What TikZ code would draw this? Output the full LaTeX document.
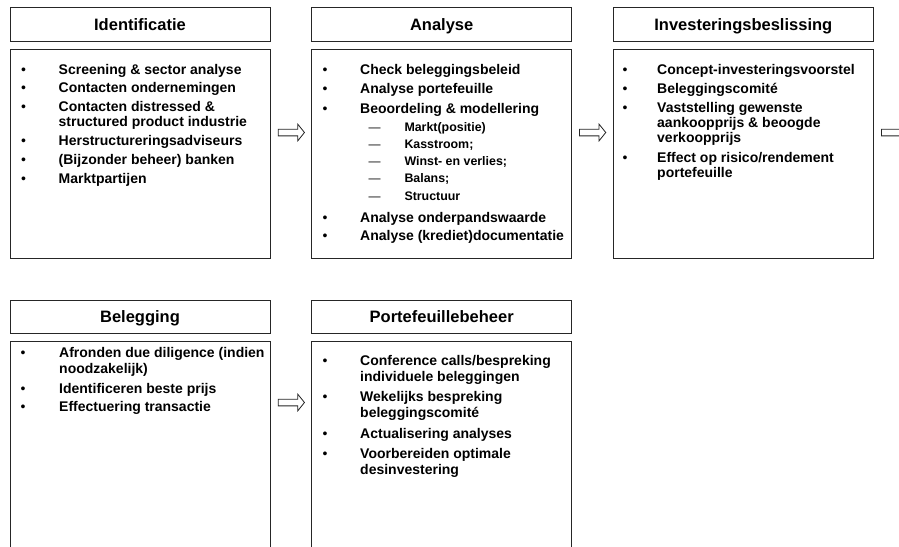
\documentclass[tikz,border=0pt]{standalone}
\usepackage{fontspec}
\setmainfont{Liberation Sans}
\usetikzlibrary{calc}
\tikzset{
  box/.style={draw=black!85, line width=0.9pt, inner sep=0pt},
  hdr/.style={box, minimum width=260pt, text height=12pt, text depth=0pt,
    font=\fontsize{16.5}{18}\selectfont\bfseries},
  body/.style={box, minimum width=260pt},
  itm/.style={inner sep=0pt, anchor=base west, font=\fontsize{14}{15}\selectfont\bfseries},
  subitm/.style={inner sep=0pt, anchor=base west, font=\fontsize{12.4}{14}\selectfont\bfseries},
  dot/.style={inner sep=0pt, anchor=base, font=\fontsize{14}{15}\selectfont},
  dashmark/.style={inner sep=0pt, anchor=base west, font=\fontsize{12}{14}\selectfont},
  blockarrow/.style={draw=black!85, line width=0.8pt, fill=white, line join=miter},
}
\newcommand\bitem[5]{%
  \node[dot] (#1d) at (#2,#4) {\textbullet};
  \node[itm] (#1) at (#3,#4) {#5};}
\newcommand\bcont[4]{\node[itm] (#1) at (#2,#3) {#4};}
\newcommand\bsub[5]{%
  \node[dashmark] (#1d) at (#2,#4) {\textemdash};
  \node[subitm] (#1) at (#3,#4) {#5};}
\newcommand\blockarr[1]{%
  \draw[blockarrow] (#1) ++(0,-3.35) -- ++(19.6,0) -- ++(0,-5) -- ++(6.7,8.35)
    -- ++(-6.7,8.35) -- ++(0,-5) -- ++(-19.6,0) -- cycle;}
\begin{document}
\begin{tikzpicture}[x=1pt,y=-1pt]
\useasboundingbox (0,0) rectangle (899,546);
\fill[white] (0,0) rectangle (899,546);
\clip (0,0) rectangle (899,546);

% ---------- top row ----------
\node[hdr, minimum height=34pt] (h1) at (140,24) {Identificatie};
\node[body, minimum height=209pt] (b1) at (140,153.5) {};
\node[hdr, minimum height=34pt] (h2) at (441.7,24) {Analyse};
\node[body, minimum height=209pt] (b2) at (441.7,153.5) {};
\node[hdr, minimum height=34pt] (h3) at (743.3,24) {Investeringsbeslissing};
\node[body, minimum height=209pt] (b3) at (743.3,153.5) {};

% ---------- bottom row ----------
\node[hdr, minimum height=33.3pt] (h4) at (140,316.65) {Belegging};
\node[body, minimum height=258.3pt] (b4) at (140,470.85) {};
\node[hdr, minimum height=33.3pt] (h5) at (441.7,316.65) {Portefeuillebeheer};
\node[body, minimum height=258.3pt] (b5) at (441.7,470.85) {};

% ---------- box 1 text ----------
\bitem{ia}{23.5}{58.5}{74}{Screening \& sector analyse}
\bitem{ib}{23.5}{58.5}{92.7}{Contacten ondernemingen}
\bitem{ic}{23.5}{58.5}{111.7}{Contacten distressed \&}
\bcont{icc}{58.5}{126.7}{structured product industrie}
\bitem{id}{23.5}{58.5}{145.7}{Herstructureringsadviseurs}
\bitem{ie}{23.5}{58.5}{164.3}{(Bijzonder beheer) banken}
\bitem{if}{23.5}{58.5}{183.3}{Marktpartijen}

% ---------- box 2 text ----------
\bitem{aa}{325}{360}{74}{Check beleggingsbeleid}
\bitem{ab}{325}{360}{93}{Analyse portefeuille}
\bitem{ac}{325}{360}{113}{Beoordeling \& modellering}
\bsub{sa}{368.5}{404.3}{131.7}{Markt(positie)}
\bsub{sb}{368.5}{404.3}{148.5}{Kasstroom;}
\bsub{sc}{368.5}{404.3}{165.5}{Winst- en verlies;}
\bsub{sd}{368.5}{404.3}{182.5}{Balans;}
\bsub{se}{368.5}{404.3}{200}{Structuur}
\bitem{ad}{325}{360}{222.3}{Analyse onderpandswaarde}
\bitem{ae}{325}{360}{240.5}{Analyse (krediet)documentatie}

% ---------- box 3 text ----------
\bitem{va}{625}{657}{74}{Concept-investeringsvoorstel}
\bitem{vb}{625}{657}{93}{Beleggingscomité}
\bitem{vc}{625}{657}{112}{Vaststelling gewenste}
\bcont{vcc}{657}{127}{aankoopprijs \& beoogde}
\bcont{vccc}{657}{142}{verkoopprijs}
\bitem{vd}{625}{657}{162}{Effect op risico/rendement}
\bcont{vdd}{657}{177}{portefeuille}

% ---------- box 4 text ----------
\bitem{ba}{23}{59}{357}{Afronden due diligence (indien}
\bcont{baa}{59}{373}{noodzakelijk)}
\bitem{bb}{23}{59}{393}{Identificeren beste prijs}
\bitem{bc}{23}{59}{411}{Effectuering transactie}

% ---------- box 5 text ----------
\bitem{pa}{325}{360}{365.5}{Conference calls/bespreking}
\bcont{paa}{360}{381.5}{individuele beleggingen}
\bitem{pb}{325}{360}{401.5}{Wekelijks bespreking}
\bcont{pbb}{360}{417}{beleggingscomité}
\bitem{pc}{325}{360}{438}{Actualisering analyses}
\bitem{pd}{325}{360}{458}{Voorbereiden optimale}
\bcont{pdd}{360}{474}{desinvestering}

% ---------- block arrows ----------
\coordinate (a1) at ($(b1.east)+(7.7,-21)$);
\coordinate (a2) at ($(b2.east)+(7.3,-21)$);
\coordinate (a3) at ($(b3.east)+(7.7,-21)$);
\coordinate (a4) at ($(b4.east)+(7.7,-68.35)$);
\blockarr{a1}
\blockarr{a2}
\blockarr{a3}
\blockarr{a4}
\end{tikzpicture}
\end{document}
